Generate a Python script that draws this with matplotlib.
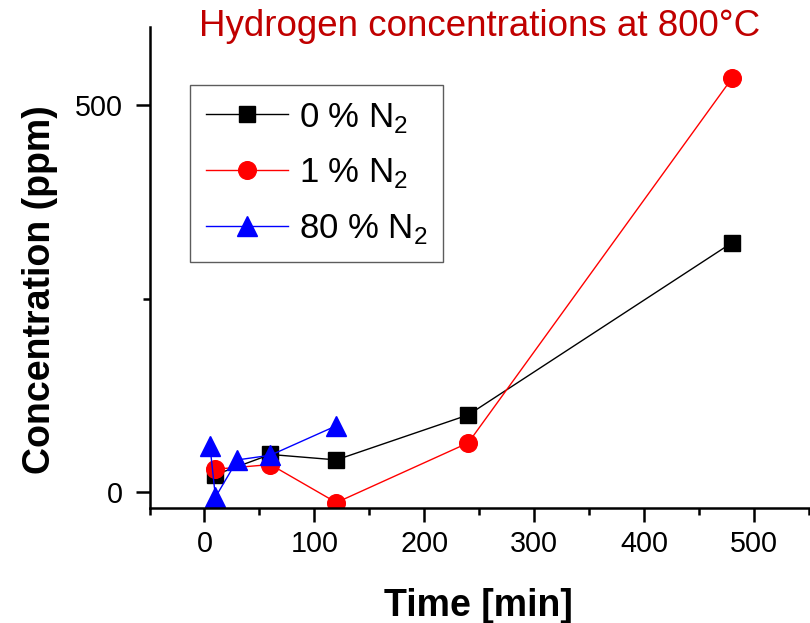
import matplotlib
matplotlib.use("Agg")
import matplotlib.pyplot as plt
from matplotlib.ticker import MultipleLocator

plt.rcParams['font.family'] = ['Liberation Sans', 'DejaVu Sans']
plt.rcParams['mathtext.fontset'] = 'custom'
plt.rcParams['mathtext.rm'] = 'Liberation Sans'

# data
t0 = [10, 60, 120, 240, 480]
c0 = [23, 49, 42, 100, 322]
t1 = [10, 60, 120, 240, 480]
c1 = [30, 36, -13, 64, 534]
t80 = [5, 10, 30, 60, 120]
c80 = [60, -6, 42, 48, 86]
labels = ["0 % N$_2$", "1 % N$_2$", "80 % N$_2$"]
title = "Hydrogen concentrations at 800°C"

fig = plt.figure(figsize=(8.1, 6.23), dpi=100)
ax = fig.add_axes([149.5/810, (623-508)/623, (809-149.5)/810, (508-27)/623])

ax.plot(t0, c0, color='black', lw=1, marker='s', ms=11, mec='black', mfc='black', label=labels[0])
ax.plot(t1, c1, color='red', lw=1, marker='o', ms=12.7, mec='red', mfc='red', label=labels[1])
ax.plot(t80, c80, color='blue', lw=1, marker='^', ms=14, mec='blue', mfc='blue', label=labels[2])

ax.set_xlim(-50, 550)
ax.set_ylim(-20, 600)
ax.xaxis.set_major_locator(MultipleLocator(100))
ax.xaxis.set_minor_locator(MultipleLocator(50))
ax.yaxis.set_major_locator(MultipleLocator(500))
ax.yaxis.set_minor_locator(MultipleLocator(250))

for s in ['top', 'right']:
    ax.spines[s].set_visible(False)
for s in ['left', 'bottom']:
    ax.spines[s].set_linewidth(1.8)

ax.tick_params(axis='both', which='major', direction='out', length=10, width=1.8, labelsize=20.7)
ax.tick_params(axis='both', which='minor', direction='out', length=5, width=1.8)
ax.tick_params(axis='x', which='major', pad=6)
ax.tick_params(axis='y', which='major', pad=9)

ax.set_xlabel("Time [min]", fontsize=27, fontweight='bold')
ax.set_ylabel("Concentration (ppm)", fontsize=27, fontweight='bold')
ax.xaxis.set_label_coords((478.5-149.5)/659.5, -(606-508)/481)
ax.yaxis.label.set_va('center')
ax.xaxis.label.set_va('center')
ax.yaxis.set_label_coords((40-149.5)/659.5, (508-290)/481)

fig.text(480/810, 1 - 36/623, title, color='#c00000', fontsize=26.5, ha='center', va='baseline')

leg = ax.legend(loc='upper left', bbox_to_anchor=((190-149.5)/659.5, (508-85)/481),
                fontsize=25, frameon=True, fancybox=False, edgecolor='#333333',
                handlelength=2.38, borderpad=0.45, labelspacing=0.63, handletextpad=0.3,
                borderaxespad=0)
leg.get_frame().set_linewidth(1.0)

fig.savefig("out.png", dpi=100)
